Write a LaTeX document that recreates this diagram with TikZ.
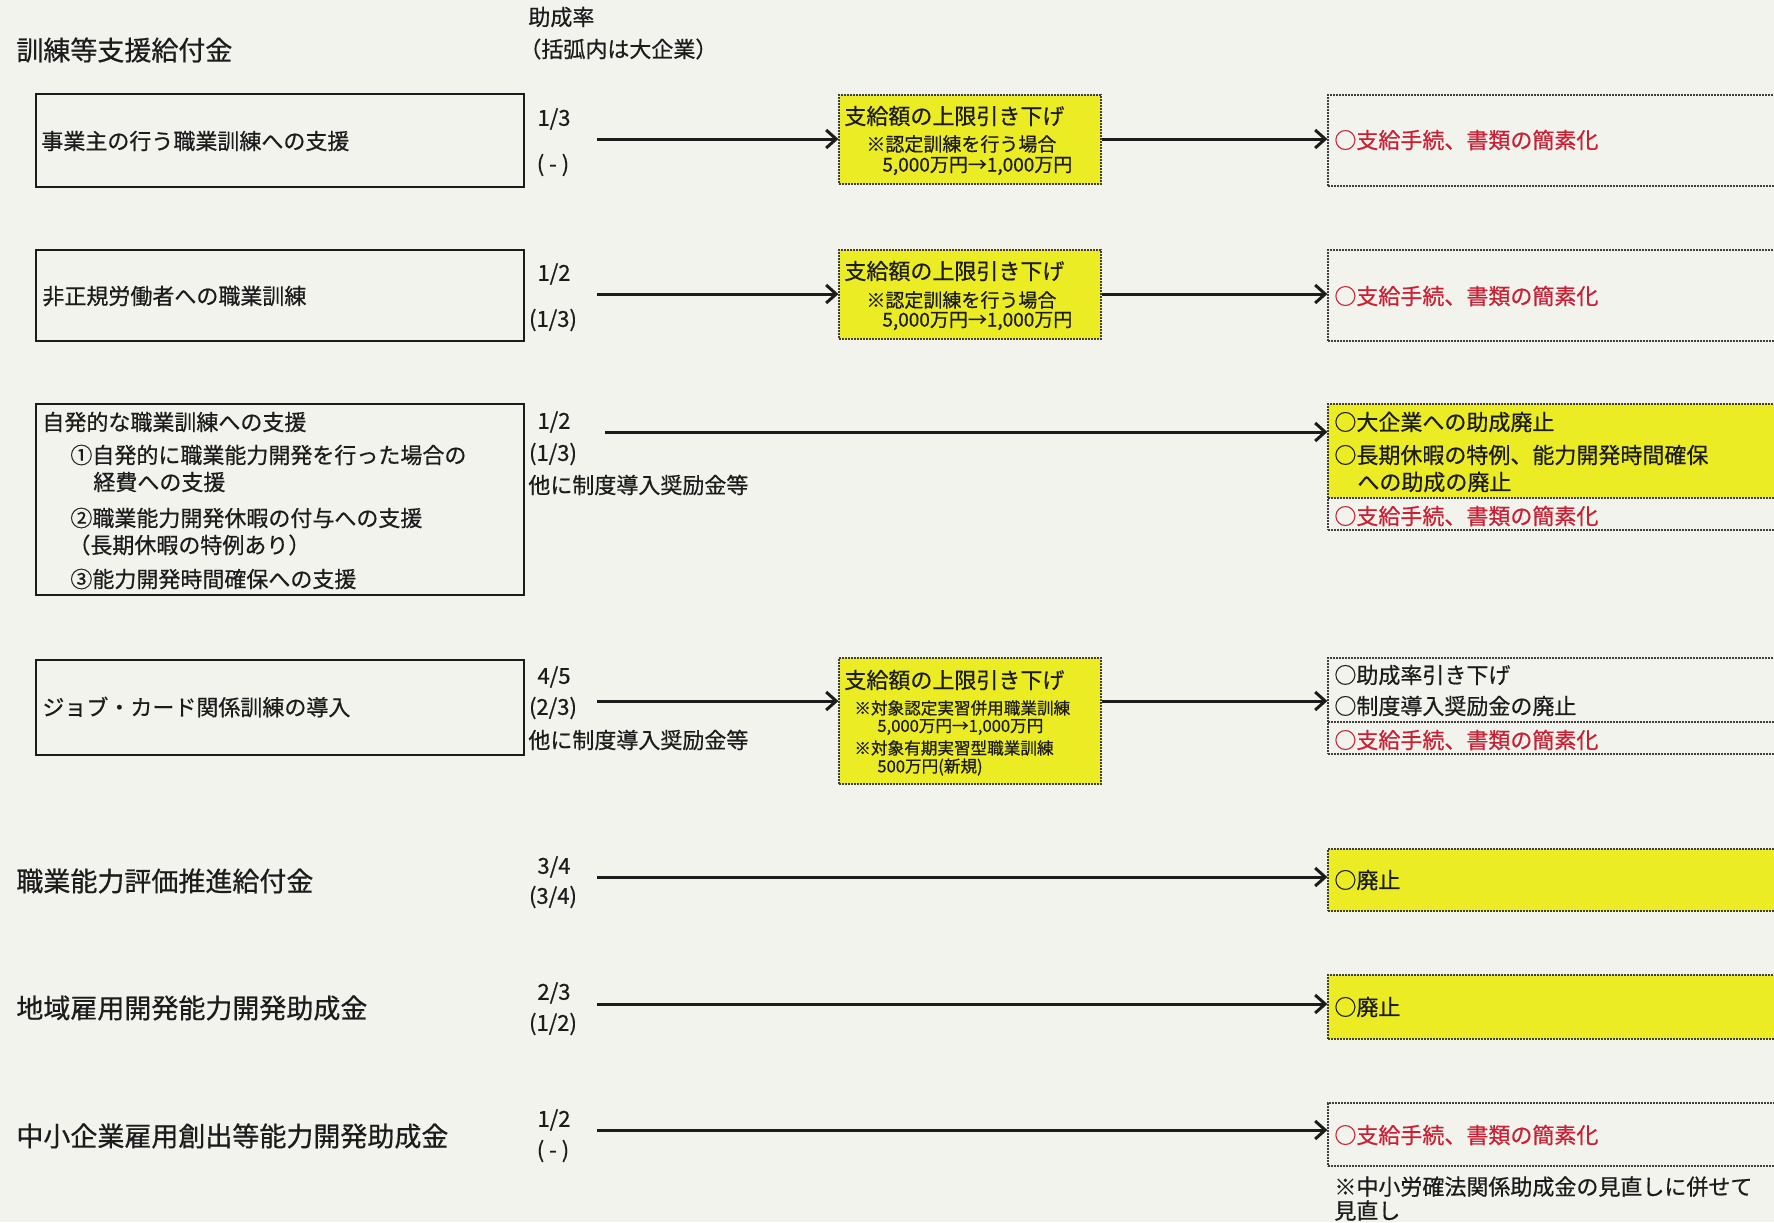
\documentclass[tikz,border=0pt]{standalone}
\usepackage{fontspec}
\setmainfont{Noto Sans CJK JP}[FakeBold=0.6]
\usetikzlibrary{arrows.meta,fit}
\definecolor{paper}{RGB}{243,243,238}
\definecolor{hl}{RGB}{236,236,36}
\definecolor{redtxt}{RGB}{200,32,52}
\definecolor{ink}{RGB}{28,28,28}
\tikzset{
  txt/.style={inner sep=0pt, anchor=west, text=ink, font=\fontsize{11}{13}\selectfont},
  bigtxt/.style={txt, font=\fontsize{13.5}{16}\selectfont},
  stxt/.style={txt, font=\fontsize{9.5}{11}\selectfont},
  ttxt/.style={txt, font=\fontsize{8.3}{10}\selectfont},
  redtext/.style={text=redtxt},
  frac/.style={inner sep=0pt, anchor=center, text=ink, font=\fontsize{11}{13}\selectfont},
  leftbox/.style={draw=ink, line width=1pt, inner sep=0pt},
  ybox/.style={fill=hl, draw=ink!85, line width=0.6pt, dash pattern=on 0.8pt off 0.7pt, inner sep=0pt},
  dbox/.style={draw=ink!85, line width=0.6pt, dash pattern=on 0.8pt off 0.7pt, inner sep=0pt},
  arr/.style={draw=ink, line width=1.5pt, -{Straight Barb[length=5pt,width=9pt]}},
}
\begin{document}
\begin{tikzpicture}[x=0.5pt,y=-0.5pt]
\useasboundingbox (0,0) rectangle (1774,1222);
\clip (0,0) rectangle (1774,1222);
\fill[paper] (0,0) rectangle (1774,1222);

% headings
\node[bigtxt] (t0) at (16,50) {訓練等支援給付金};
\node[txt] (h1) at (528,17) {助成率};
\node[txt] (h2) at (519,49) {（括弧内は大企業）};

% row 1
\node[leftbox, fit={(36,94) (524,187)}] (b1) {};
\node[txt] (b1t) at (41,141) {事業主の行う職業訓練への支援};
\node[frac] (f1a) at (554,119) {1/3};
\node[frac] (f1b) at (553,165) {( - )};
\node[ybox, fit={(839,95) (1101,184)}] (y1) {};
\node[txt] (y1a) at (844,116) {支給額の上限引き下げ};
\node[stxt] (y1b) at (866,144) {※認定訓練を行う場合};
\node[stxt] (y1c) at (882,166) {5,000万円→1,000万円};
\node[dbox, fit={(1328,95) (1790,186)}] (r1) {};
\node[txt, redtext] (r1t) at (1334,140) {○支給手続、書類の簡素化};
\coordinate (s1) at (597,139);
\draw[arr] (s1) -- (s1 -| y1.west);
\draw[arr] (y1.east |- s1) -- (s1 -| r1.west);

% row 2
\node[leftbox, fit={(36,250) (524,341)}] (b2) {};
\node[txt] (b2t) at (42,296) {非正規労働者への職業訓練};
\node[frac] (f2a) at (554,274) {1/2};
\node[frac] (f2b) at (553,320) {(1/3)};
\node[ybox, fit={(839,250) (1101,339)}] (y2) {};
\node[txt] (y2a) at (844,271) {支給額の上限引き下げ};
\node[stxt] (y2b) at (866,300) {※認定訓練を行う場合};
\node[stxt] (y2c) at (882,321) {5,000万円→1,000万円};
\node[dbox, fit={(1328,250) (1790,341)}] (r2) {};
\node[txt, redtext] (r2t) at (1334,296) {○支給手続、書類の簡素化};
\coordinate (s2) at (597,294);
\draw[arr] (s2) -- (s2 -| y2.west);
\draw[arr] (y2.east |- s2) -- (s2 -| r2.west);

% row 3
\node[leftbox, fit={(36,404) (524,595)}] (b3) {};
\node[txt] (b3a) at (42,422) {自発的な職業訓練への支援};
\node[txt] (b3b) at (70,455) {①自発的に職業能力開発を行った場合の};
\node[txt] (b3c) at (93,482) {経費への支援};
\node[txt] (b3d) at (70,518) {②職業能力開発休暇の付与への支援};
\node[txt] (b3e) at (68,545) {（長期休暇の特例あり）};
\node[txt] (b3f) at (70,579) {③能力開発時間確保への支援};
\node[frac] (f3a) at (554,422) {1/2};
\node[frac] (f3b) at (553,454) {(1/3)};
\node[txt] (f3c) at (528,485) {他に制度導入奨励金等};
\node[ybox, fit={(1328,404) (1790,498)}] (r3a) {};
\node[dbox, fit={(1328,498) (1790,530)}] (r3b) {};
\node[txt] (r3t1) at (1334,422) {○大企業への助成廃止};
\node[txt] (r3t2) at (1334,455) {○長期休暇の特例、能力開発時間確保};
\node[txt] (r3t3) at (1357,482) {への助成の廃止};
\node[txt, redtext] (r3t4) at (1334,516) {○支給手続、書類の簡素化};
\coordinate (s3) at (605,432);
\draw[arr] (s3) -- (s3 -| r3a.west);

% row 4
\node[leftbox, fit={(36,660) (524,755)}] (b4) {};
\node[txt] (b4t) at (42,707) {ジョブ・カード関係訓練の導入};
\node[frac] (f4a) at (554,677) {4/5};
\node[frac] (f4b) at (553,708) {(2/3)};
\node[txt] (f4c) at (528,740) {他に制度導入奨励金等};
\node[ybox, fit={(839,658) (1101,784)}] (y4) {};
\node[txt] (y4a) at (844,680) {支給額の上限引き下げ};
\node[ttxt] (y4b) at (854,708) {※対象認定実習併用職業訓練};
\node[ttxt] (y4c) at (877,727) {5,000万円→1,000万円};
\node[ttxt] (y4d) at (854,748) {※対象有期実習型職業訓練};
\node[ttxt] (y4e) at (877,767) {500万円(新規)};
\node[dbox, fit={(1328,658) (1790,722)}] (r4a) {};
\node[dbox, fit={(1328,722) (1790,754)}] (r4b) {};
\node[txt] (r4t1) at (1334,675) {○助成率引き下げ};
\node[txt] (r4t2) at (1334,706) {○制度導入奨励金の廃止};
\node[txt, redtext] (r4t3) at (1334,740) {○支給手続、書類の簡素化};
\coordinate (s4) at (597,701);
\draw[arr] (s4) -- (s4 -| y4.west);
\draw[arr] (y4.east |- s4) -- (s4 -| r4a.west);

% row 5
\node[bigtxt] (t5) at (16,881) {職業能力評価推進給付金};
\node[frac] (f5a) at (554,867) {3/4};
\node[frac] (f5b) at (553,897) {(3/4)};
\node[ybox, fit={(1328,849) (1790,911)}] (r5) {};
\node[txt] (r5t) at (1334,880) {○廃止};
\coordinate (s5) at (597,877);
\draw[arr] (s5) -- (s5 -| r5.west);

% row 6
\node[bigtxt] (t6) at (16,1008) {地域雇用開発能力開発助成金};
\node[frac] (f6a) at (554,993) {2/3};
\node[frac] (f6b) at (553,1024) {(1/2)};
\node[ybox, fit={(1328,975) (1790,1039)}] (r6) {};
\node[txt] (r6t) at (1334,1007) {○廃止};
\coordinate (s6) at (597,1004);
\draw[arr] (s6) -- (s6 -| r6.west);

% row 7
\node[bigtxt] (t7) at (16,1136) {中小企業雇用創出等能力開発助成金};
\node[frac] (f7a) at (554,1120) {1/2};
\node[frac] (f7b) at (553,1151) {( - )};
\node[dbox, fit={(1328,1103) (1790,1166)}] (r7) {};
\node[txt, redtext] (r7t) at (1334,1135) {○支給手続、書類の簡素化};
\coordinate (s7) at (597,1130);
\draw[arr] (s7) -- (s7 -| r7.west);
\node[txt, anchor=north west, align=left, font=\fontsize{11}{12}\selectfont] (n7) at (1334,1176) {※中小労確法関係助成金の見直しに併せて\\見直し};
\end{tikzpicture}
\end{document}
